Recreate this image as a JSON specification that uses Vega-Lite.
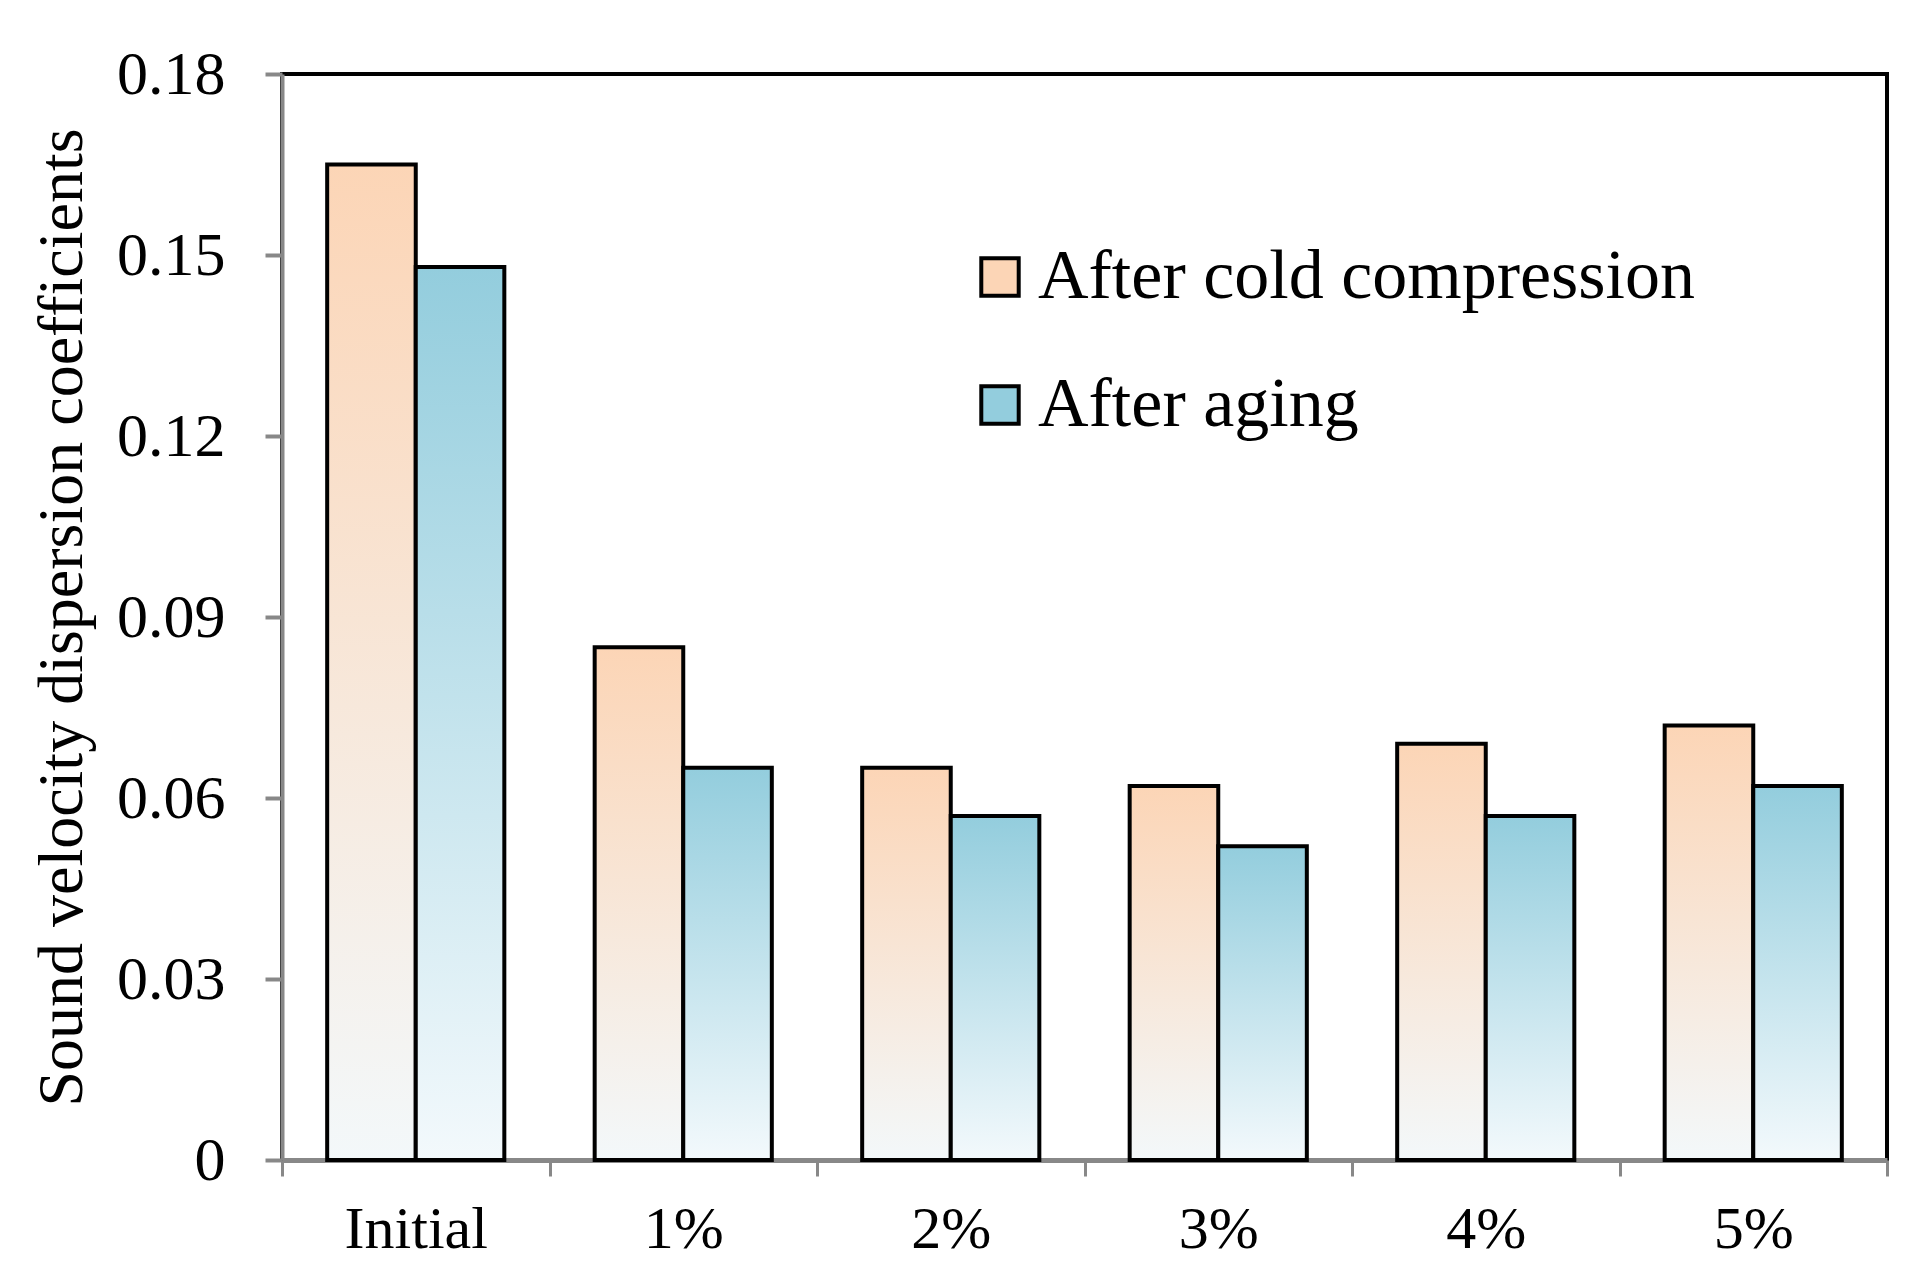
{
  "$schema": "https://vega.github.io/schema/vega-lite/v6.json",
  "width": 1605,
  "height": 1086,
  "autosize": {"type": "none"},
  "padding": {"left": 282, "top": 74, "right": 24, "bottom": 123},
  "background": "white",
  "config": {
    "view": {"stroke": "black", "strokeWidth": 4},
    "font": "Liberation Serif"
  },
  "data": {
    "values": [
      {"cat": "Initial", "series": "After cold compression", "value": 0.165},
      {"cat": "Initial", "series": "After aging", "value": 0.148},
      {"cat": "1%", "series": "After cold compression", "value": 0.085},
      {"cat": "1%", "series": "After aging", "value": 0.065},
      {"cat": "2%", "series": "After cold compression", "value": 0.065},
      {"cat": "2%", "series": "After aging", "value": 0.057},
      {"cat": "3%", "series": "After cold compression", "value": 0.062},
      {"cat": "3%", "series": "After aging", "value": 0.052},
      {"cat": "4%", "series": "After cold compression", "value": 0.069},
      {"cat": "4%", "series": "After aging", "value": 0.057},
      {"cat": "5%", "series": "After cold compression", "value": 0.072},
      {"cat": "5%", "series": "After aging", "value": 0.062}
    ]
  },
  "encoding": {
    "x": {
      "field": "cat",
      "type": "nominal",
      "sort": ["Initial", "1%", "2%", "3%", "4%", "5%"],
      "scale": {"paddingInner": 0, "paddingOuter": 0},
      "axis": {
        "title": null,
        "labelAngle": 0,
        "labelFont": "Liberation Serif",
        "labelFontSize": 60,
        "labelColor": "black",
        "labelPadding": 24,
        "domainColor": "#888888",
        "domainWidth": 5,
        "tickColor": "#888888",
        "tickWidth": 3,
        "tickSize": 16,
        "tickBand": "extent"
      }
    },
    "xOffset": {
      "field": "series",
      "type": "nominal",
      "sort": ["After cold compression", "After aging"],
      "scale": {"paddingInner": 0, "paddingOuter": 0.51}
    },
    "y": {
      "field": "value",
      "type": "quantitative",
      "scale": {"domain": [0, 0.18], "nice": false},
      "axis": {
        "title": "Sound velocity dispersion coefficients",
        "titleFont": "Liberation Serif",
        "titleFontSize": 64,
        "titleFontWeight": "normal",
        "titleColor": "black",
        "titlePadding": 22,
        "values": [0, 0.03, 0.06, 0.09, 0.12, 0.15, 0.18],
        "format": "~g",
        "grid": false,
        "labelFont": "Liberation Serif",
        "labelFontSize": 62,
        "labelColor": "black",
        "labelPadding": 40,
        "domainColor": "#888888",
        "domainWidth": 4,
        "tickColor": "#888888",
        "tickWidth": 4,
        "tickSize": 17
      }
    }
  },
  "layer": [
    {
      "mark": {"type": "bar", "fillOpacity": 0, "strokeOpacity": 0},
      "encoding": {
        "fill": {
          "field": "series",
          "type": "nominal",
          "scale": {
            "domain": ["After cold compression", "After aging"],
            "range": ["#FCD5B6", "#93CDDD"]
          },
          "legend": {
            "title": null,
            "orient": "none",
            "legendX": 683,
            "legendY": 168,
            "labelFont": "Liberation Serif",
            "labelFontSize": 70,
            "labelColor": "black",
            "labelLimit": 0,
            "labelOffset": 3,
            "symbolType": "square",
            "symbolSize": 1400,
            "symbolStrokeColor": "black",
            "symbolStrokeWidth": 4,
            "symbolOpacity": 1,
            "rowPadding": 58,
            "encode": {
              "symbols": {
                "update": {
                  "fillOpacity": {"value": 1},
                  "strokeOpacity": {"value": 1},
                  "opacity": {"value": 1},
                  "stroke": {"value": "black"},
                  "strokeWidth": {"value": 4}
                }
              }
            }
          }
        }
      }
    },
    {
      "mark": {"type": "bar", "stroke": "black", "strokeWidth": 4},
      "encoding": {
        "fill": {
          "condition": {
            "test": "datum.series === 'After aging'",
            "value": {"gradient": "linear", "x1": 0, "y1": 0, "x2": 0, "y2": 1, "stops": [{"offset": 0, "color": "#93CDDD"}, {"offset": 1, "color": "#F3F9FC"}]}
          },
          "value": {"gradient": "linear", "x1": 0, "y1": 0, "x2": 0, "y2": 1, "stops": [{"offset": 0, "color": "#FCD5B6"}, {"offset": 1, "color": "#F3F8FA"}]}
        }
      }
    }
  ]
}
